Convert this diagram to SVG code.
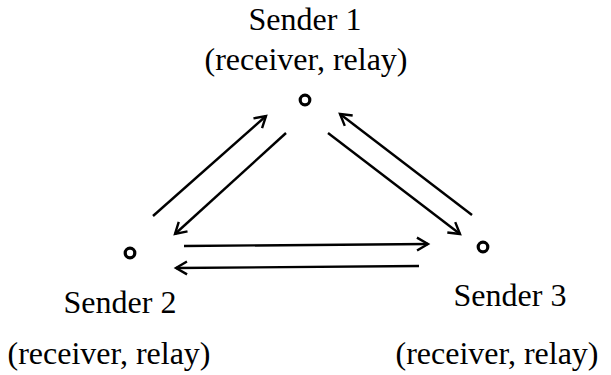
<svg xmlns="http://www.w3.org/2000/svg" width="611" height="375" viewBox="0 0 611 375">
<style>
.lbl{font-family:"Liberation Serif","Times New Roman",serif;font-size:32px;fill:#000;text-anchor:middle}
.node{fill:none;stroke:#000;stroke-width:3.2}
.edge{stroke:#000;stroke-width:2.4;fill:none}
</style>
<defs>
<marker id="arr" markerUnits="userSpaceOnUse" markerWidth="20" markerHeight="20" viewBox="-14 -10 20 20" refX="0" refY="0" orient="auto">
<path d="M-11,-6.5 L0,0 L-11,6.5" fill="none" stroke="#000" stroke-width="2.4" stroke-linejoin="miter"/>
</marker>
</defs>
<rect width="611" height="375" fill="#fff"/>
<g id="connectors">
<line class="edge" x1="153" y1="216" x2="266" y2="116" marker-end="url(#arr)"/>
<line class="edge" x1="286" y1="133" x2="175" y2="234" marker-end="url(#arr)"/>
<line class="edge" x1="328" y1="133" x2="460" y2="234" marker-end="url(#arr)"/>
<line class="edge" x1="472" y1="215" x2="340" y2="114" marker-end="url(#arr)"/>
<line class="edge" x1="184" y1="246" x2="428" y2="244" marker-end="url(#arr)"/>
<line class="edge" x1="419" y1="266" x2="176" y2="268" marker-end="url(#arr)"/>
</g>
<g id="sender1">
<circle class="node" cx="305" cy="100" r="4.8"/>
<text class="lbl" x="305" y="30">Sender 1</text>
<text class="lbl" x="306" y="70">(receiver, relay)</text>
</g>
<g id="sender2">
<circle class="node" cx="130" cy="253" r="4.8"/>
<text class="lbl" x="120" y="313">Sender 2</text>
<text class="lbl" x="109" y="364">(receiver, relay)</text>
</g>
<g id="sender3">
<circle class="node" cx="483" cy="247" r="4.8"/>
<text class="lbl" x="510" y="306">Sender 3</text>
<text class="lbl" x="497" y="364">(receiver, relay)</text>
</g>
</svg>
